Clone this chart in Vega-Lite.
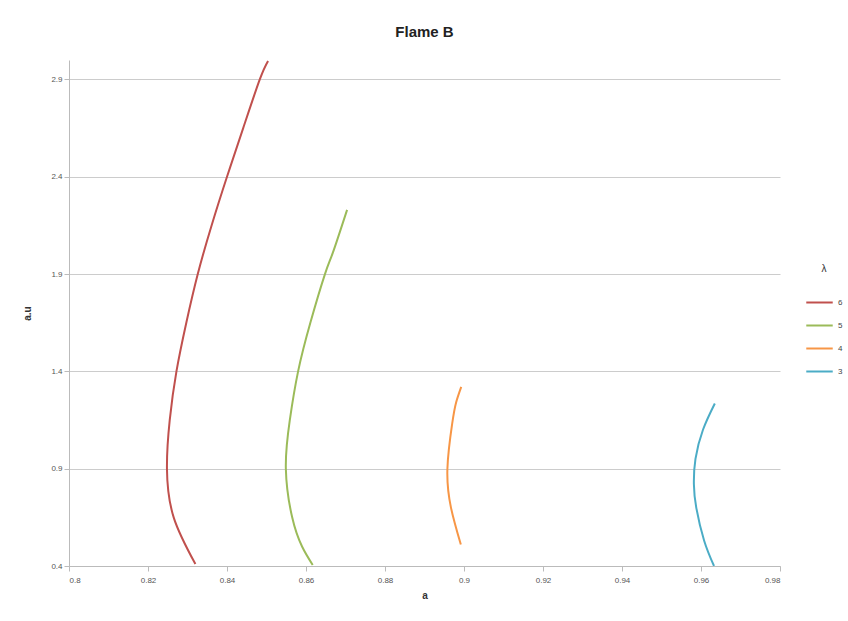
{
  "$schema": "https://vega.github.io/schema/vega-lite/v6.json",
  "autosize": "none",
  "width": 711,
  "height": 506,
  "padding": {"left": 69, "top": 60, "right": 68, "bottom": 55},
  "background": "white",
  "title": {"text": "Flame B", "fontSize": 15, "fontWeight": "bold", "font": "Liberation Sans", "color": "#222", "offset": 20, "anchor": "middle"},
  "data": {"values": [
    {"s": "6", "i": 1, "x": 0.8320, "y": 0.41},
    {"s": "6", "i": 2, "x": 0.8265, "y": 0.65},
    {"s": "6", "i": 3, "x": 0.8248, "y": 0.90},
    {"s": "6", "i": 4, "x": 0.8255, "y": 1.15},
    {"s": "6", "i": 5, "x": 0.8272, "y": 1.40},
    {"s": "6", "i": 6, "x": 0.8297, "y": 1.65},
    {"s": "6", "i": 7, "x": 0.8326, "y": 1.90},
    {"s": "6", "i": 8, "x": 0.8361, "y": 2.15},
    {"s": "6", "i": 9, "x": 0.8400, "y": 2.40},
    {"s": "6", "i": 10, "x": 0.8441, "y": 2.65},
    {"s": "6", "i": 11, "x": 0.8483, "y": 2.90},
    {"s": "6", "i": 12, "x": 0.8504, "y": 2.995},
    {"s": "5", "i": 1, "x": 0.8617, "y": 0.405},
    {"s": "5", "i": 2, "x": 0.8590, "y": 0.50},
    {"s": "5", "i": 3, "x": 0.8565, "y": 0.65},
    {"s": "5", "i": 4, "x": 0.8549, "y": 0.90},
    {"s": "5", "i": 5, "x": 0.8559, "y": 1.15},
    {"s": "5", "i": 6, "x": 0.8580, "y": 1.40},
    {"s": "5", "i": 7, "x": 0.8611, "y": 1.65},
    {"s": "5", "i": 8, "x": 0.8648, "y": 1.90},
    {"s": "5", "i": 9, "x": 0.8668, "y": 2.01},
    {"s": "5", "i": 10, "x": 0.8704, "y": 2.23},
    {"s": "4", "i": 1, "x": 0.8992, "y": 0.51},
    {"s": "4", "i": 2, "x": 0.8967, "y": 0.70},
    {"s": "4", "i": 3, "x": 0.8958, "y": 0.90},
    {"s": "4", "i": 4, "x": 0.8970, "y": 1.13},
    {"s": "4", "i": 5, "x": 0.8980, "y": 1.24},
    {"s": "4", "i": 6, "x": 0.8993, "y": 1.32},
    {"s": "3", "i": 1, "x": 0.9633, "y": 0.40},
    {"s": "3", "i": 2, "x": 0.9608, "y": 0.53},
    {"s": "3", "i": 3, "x": 0.9588, "y": 0.70},
    {"s": "3", "i": 4, "x": 0.9582, "y": 0.82},
    {"s": "3", "i": 5, "x": 0.9586, "y": 0.95},
    {"s": "3", "i": 6, "x": 0.9605, "y": 1.10},
    {"s": "3", "i": 7, "x": 0.9635, "y": 1.235}
  ]},
  "mark": {"type": "line", "interpolate": "natural", "strokeWidth": 2, "clip": true},
  "encoding": {
    "x": {"field": "x", "type": "quantitative",
      "scale": {"domain": [0.8, 0.98], "nice": false, "zero": false},
      "axis": {"title": "a", "values": [0.8, 0.82, 0.84, 0.86, 0.88, 0.9, 0.92, 0.94, 0.96, 0.98], "format": "~g", "grid": false, "titlePadding": 6, "labelPadding": 5}},
    "y": {"field": "y", "type": "quantitative",
      "scale": {"domain": [0.4, 3.0], "nice": false, "zero": false},
      "axis": {"title": "a.u", "values": [0.4, 0.9, 1.4, 1.9, 2.4, 2.9], "format": "~g", "grid": true, "titlePadding": 18}},
    "order": {"field": "i", "type": "quantitative"},
    "color": {"field": "s", "type": "nominal",
      "scale": {"domain": ["6", "5", "4", "3"], "range": ["#C0504D", "#9BBB59", "#F79646", "#4BACC6"]},
      "legend": {"title": "λ", "orient": "none", "legendX": 736, "legendY": 204, "symbolType": "stroke", "symbolStrokeWidth": 2, "symbolSize": 700, "rowPadding": 4, "labelFontSize": 8, "titleFontSize": 10, "titleFontWeight": "normal", "titleAnchor": "middle", "titlePadding": 14}}
  },
  "config": {
    "view": {"stroke": null},
    "font": "Liberation Sans",
    "axis": {"labelFontSize": 8, "labelColor": "#555", "titleFontSize": 10, "titleFontWeight": "bold", "titleColor": "#333", "domainColor": "#bbb", "tickColor": "#bbb", "gridColor": "#ccc", "tickSize": 5},
    "legend": {"labelColor": "#444", "titleColor": "#333"}
  }
}
